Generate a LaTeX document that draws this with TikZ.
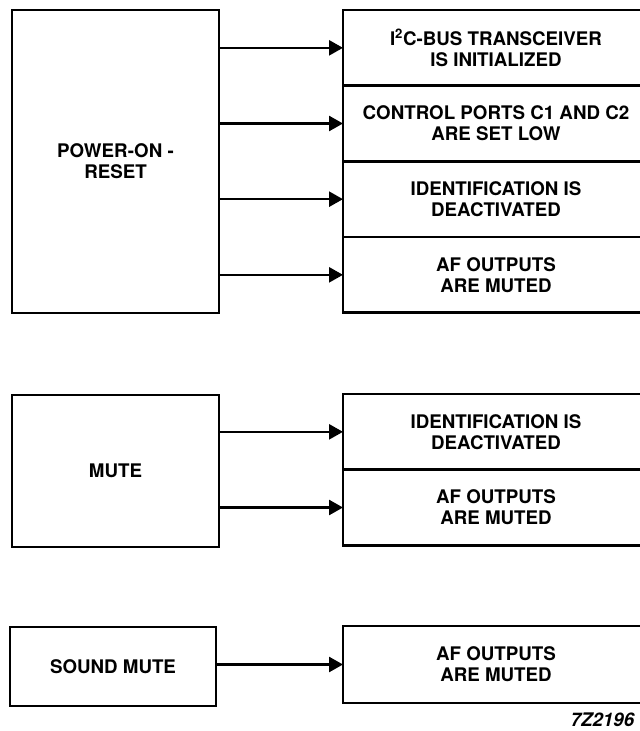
\documentclass[tikz,border=0pt]{standalone}
\usepackage{fontspec}
\setmainfont{TeX Gyre Heros}
\usepackage{tikz}
\usetikzlibrary{arrows.meta,positioning}

\begin{document}
\begin{tikzpicture}[
    font=\bfseries\fontsize{16}{18}\selectfont,
    srcbox/.style={rectangle, draw=black, line width=2.3pt, outer sep=0pt, minimum width=6.21cm, align=center},
    rowbox/.style={rectangle, draw=black, line width=2.3pt, outer sep=0pt, minimum width=9.18cm, minimum height=2.27cm, align=center},
    arrow/.style={-{Triangle[length=0.42cm, width=0.45cm]}, line width=2.2pt},
]
\useasboundingbox (0,0) rectangle (19.2,-21.93);

% Power-on reset
\node[srcbox, minimum height=9.09cm] (por) at (3.465,-4.845) {POWER-ON -\\RESET};
\node[rowbox, anchor=north] (i2c) at (14.88,-0.3) {I\textsuperscript{2}C-BUS TRANSCEIVER\\IS INITIALIZED};
\node[rowbox, below=0pt of i2c] (ports) {CONTROL PORTS C1 AND C2\\ARE SET LOW};
\node[rowbox, below=0pt of ports] (ident) {IDENTIFICATION IS\\DEACTIVATED};
\node[rowbox, below=0pt of ident] (afout) {AF OUTPUTS\\ARE MUTED};
\foreach \n in {i2c,ports,ident,afout}
    \draw[arrow] (por.east |- \n.west) -- (\n.west);

% Mute
\node[srcbox, minimum height=4.56cm] (mute) at (3.465,-14.13) {MUTE};
\node[rowbox, anchor=north] (mident) at (14.88,-11.82) {IDENTIFICATION IS\\DEACTIVATED};
\node[rowbox, below=0pt of mident] (mafout) {AF OUTPUTS\\ARE MUTED};
\draw[arrow] (mute.east |- mident.west) -- (mident.west);
\draw[arrow] (mute.east |- mafout.west) -- (mafout.west);

% Sound mute
\node[srcbox, minimum width=6.18cm, minimum height=2.37cm] (smute) at (3.39,-19.995) {SOUND MUTE};
\node[rowbox, minimum height=2.31cm] (safout) at (14.88,-19.935) {AF OUTPUTS\\ARE MUTED};
\draw[arrow] (smute.east |- safout.west) -- (safout.west);

% Figure code
\node[anchor=east, font=\bfseries\itshape\fontsize{16}{18}\selectfont] (code) at (19.15,-21.6) {7Z2196};
\end{tikzpicture}
\end{document}
